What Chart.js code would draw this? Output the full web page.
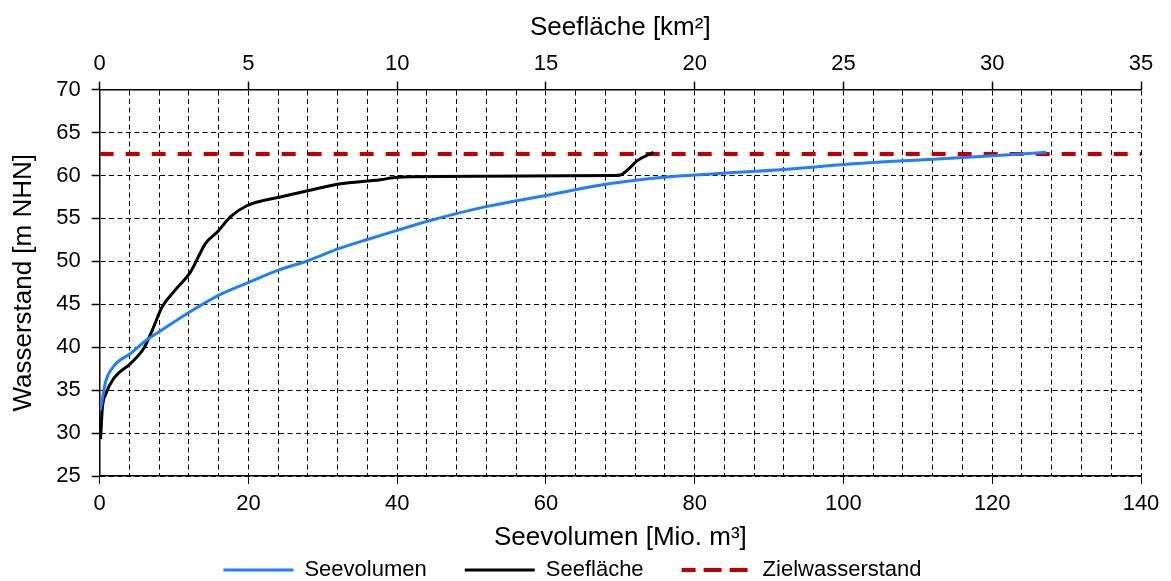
<!DOCTYPE html>
<html>
<head>
<meta charset="utf-8">
<script src="https://cdn.jsdelivr.net/npm/chart.js"></script>
<style>
  html, body { margin: 0; padding: 0; background: #fff; }
  #wrap { width: 1171px; height: 581px; }
</style>
</head>
<body>
<div id="wrap"><canvas id="chart"></canvas></div>
<script>
// Seevolumen curve (x: Mio. m³, y: m NHN)
const volumeX = [0, 0.13, 0.8, 1.9, 4.2, 6.4, 8, 12.1, 16.1, 20.2, 24.1, 28.1, 32.2, 36.2, 40, 44.2, 52.1, 60.2, 68.2, 75.8, 82.6, 92, 100.5, 112.1, 120.2, 127.3];
const volumeY = [32.6, 32.9, 36.0, 37.8, 39.3, 40.9, 41.8, 44.1, 46.1, 47.6, 49.0, 50.1, 51.5, 52.6, 53.6, 54.7, 56.4, 57.7, 59.0, 59.8, 60.2, 60.7, 61.3, 61.9, 62.3, 62.7];

// Seefläche curve (x: km², y: m NHN)
const areaX = [0.03, 0.09, 0.2, 0.48, 1.04, 1.49, 1.77, 2.1, 2.5, 3.06, 3.56, 3.95, 4.4, 4.96, 5.52, 6.08, 7.03, 8.04, 9.44, 10.0, 12.8, 17.28, 17.5, 17.78, 18.06, 18.62];
const areaY = [29.3, 32.9, 34.5, 36.4, 38.1, 39.9, 42.0, 44.7, 46.5, 48.8, 52.1, 53.4, 55.2, 56.5, 57.1, 57.5, 58.25, 59.0, 59.5, 59.8, 59.9, 60.0, 60.06, 60.76, 61.7, 62.7];

// Zielwasserstand
const targetX = [0, 140];
const targetY = [62.5, 62.5];

const toPoints = (xs, ys) => xs.map((x, i) => ({ x: x, y: ys[i] }));

const FONT = "'Liberation Sans', Arial, sans-serif";
const gridDash = [5, 3.5];

new Chart(document.getElementById('chart'), {
  type: 'scatter',
  data: {
    datasets: [
      {
        label: 'Seevolumen',
        data: toPoints(volumeX, volumeY),
        xAxisID: 'x',
        showLine: true,
        borderColor: '#1f7fff',
        backgroundColor: '#1f7fff',
        borderWidth: 3,
        pointRadius: 0,
        cubicInterpolationMode: 'monotone'
      },
      {
        label: 'Seefläche',
        data: toPoints(areaX, areaY),
        xAxisID: 'x2',
        showLine: true,
        borderColor: '#000000',
        backgroundColor: '#000000',
        borderWidth: 3,
        pointRadius: 0,
        cubicInterpolationMode: 'monotone'
      },
      {
        label: 'Zielwasserstand',
        data: toPoints(targetX, targetY),
        xAxisID: 'x',
        showLine: true,
        borderColor: '#c00000',
        backgroundColor: '#c00000',
        borderWidth: 4,
        borderDash: [14, 12],
        pointRadius: 0
      }
    ]
  },
  options: {
    responsive: true,
    maintainAspectRatio: false,
    animation: false,
    layout: { padding: { top: 6, left: 4, right: 30, bottom: 0 } },
    plugins: {
      tooltip: { enabled: false },
      legend: {
        position: 'bottom',
        maxHeight: 60,
        labels: {
          font: { family: FONT, size: 22 },
          color: '#000',
          boxWidth: 70,
          boxHeight: 0,
          padding: 38
        }
      }
    },
    scales: {
      x: {
        type: 'linear',
        position: 'bottom',
        min: 0,
        max: 140,
        ticks: {
          stepSize: 20,
          padding: 7,
          color: '#000',
          font: { family: FONT, size: 22 },
          maxRotation: 0
        },
        grid: {
          drawOnChartArea: false,
          drawTicks: true,
          tickLength: 8,
          tickColor: '#000'
        },
        border: { display: true, color: '#000', width: 1.5 },
        title: {
          display: true,
          text: 'Seevolumen [Mio. m³]',
          color: '#000',
          font: { family: FONT, size: 26 },
          // legend padding is wide, so pull the title down into its box
          padding: { top: -2, bottom: -32.6 }
        }
      },
      x2: {
        type: 'linear',
        position: 'top',
        min: 0,
        max: 35,
        ticks: {
          stepSize: 1,
          autoSkip: false,
          maxRotation: 0,
          padding: 4.5,
          color: '#000',
          font: { family: FONT, size: 22 },
          callback: v => (v % 5 === 0 ? String(v) : '')
        },
        grid: {
          color: '#000',
          lineWidth: 1,
          drawTicks: true,
          tickLength: 8,
          tickWidth: 1.5,
          tickColor: c => (c.tick && c.tick.value % 5 === 0 ? '#000' : 'rgba(0,0,0,0)')
        },
        border: { display: true, color: '#000', width: 1.5, dash: gridDash },
        title: {
          display: true,
          text: 'Seefläche [km²]',
          color: '#000',
          font: { family: FONT, size: 26 },
          padding: { top: 6, bottom: 3 }
        }
      },
      y: {
        type: 'linear',
        min: 25,
        max: 70,
        ticks: {
          stepSize: 5,
          padding: 11,
          color: '#000',
          font: { family: FONT, size: 22 }
        },
        grid: {
          color: '#000',
          lineWidth: 1,
          tickLength: 8,
          tickWidth: 1.5,
          tickColor: '#000'
        },
        border: { display: true, color: '#000', width: 1.5, dash: gridDash },
        title: {
          display: true,
          text: 'Wasserstand [m NHN]',
          color: '#000',
          font: { family: FONT, size: 26 },
          padding: { top: 4, bottom: 6 }
        }
      }
    }
  }
});
</script>
</body>
</html>
